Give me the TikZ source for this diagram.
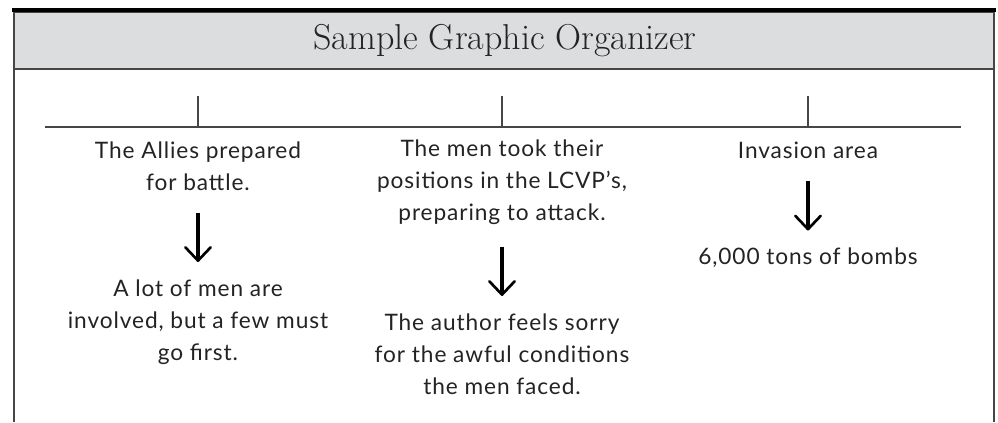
\documentclass[tikz,border=0pt]{standalone}
\usepackage{fontspec}
\setsansfont{Lato}[LetterSpace=4]
\usepackage{tikz}
\usetikzlibrary{arrows.meta, positioning}
\definecolor{headergray}{RGB}{220, 221, 222}
\definecolor{rulegray}{RGB}{70, 70, 70}
\definecolor{textgray}{RGB}{35, 35, 35}

\begin{document}
\begin{tikzpicture}[x=0.75pt, y=-0.75pt,
  >={Straight Barb[length=10pt,width=19pt,line width=2pt,round]},
  every node/.style={font=\sffamily\fontsize{17}{24}\selectfont, text=textgray, align=center, inner sep=0pt},
  flow/.style={->, line width=2.3pt, black, shorten <=16.5pt, shorten >=13pt}]

\useasboundingbox (0,0) rectangle (998,422);

% Frame and header
\fill[headergray] (14,12) rectangle (994,69);
\draw[rulegray, line width=1pt] (14,422) -- (14,12) -- (994,12) -- (994,422);
\draw[rulegray, line width=1pt] (14,69) -- (994,69);
\draw[black, line width=3.5pt] (12,10) -- (996,10);
\node[font=\rmfamily\fontsize{27}{30}\selectfont, text=textgray] at (505,41) (title) {Sample Graphic Organizer};

% Timeline
\draw[rulegray, line width=0.9pt] (45,127) -- (961,127);
\foreach \tx in {198,502,808} {
  \draw[rulegray, line width=0.9pt] (\tx,96) -- (\tx,127);
}

% Column 1
\node at (198,166) (allies) {The Allies prepared\\for battle.};
\node at (198,322) (lot) {A lot of men are\\involved, but a few must\\go first.};

% Column 2
\node at (502,182) (lcvp) {The men took their\\positions in the LCVP’s,\\preparing to attack.};
\node at (502,354) (author) {The author feels sorry\\for the awful conditions\\the men faced.};

% Column 3
\node at (808,150) (area) {Invasion area};
\node at (808,258) (bombs) {6,000 tons of bombs};

% Connections
\draw[flow] (allies) -- (lot);
\draw[flow] (lcvp) -- (author);
\draw[flow] (area) -- (bombs);

\end{tikzpicture}
\end{document}
